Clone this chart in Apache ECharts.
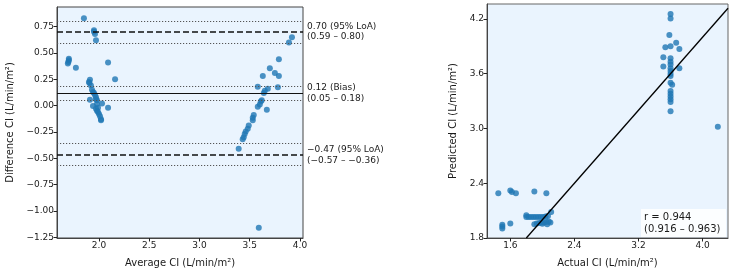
<!DOCTYPE html>
<html>
<head>
<meta charset="utf-8">
<script src="https://cdn.jsdelivr.net/npm/echarts@6.0.0/dist/echarts.min.js"></script>
<style>html,body{margin:0;padding:0;background:#fff;}#c{width:732px;height:273px;}</style>
</head>
<body>
<div id="c"></div>
<script>
// Bland–Altman data (average, difference)
const baAverage = [1.85,1.95,1.95,1.96,1.97,1.70,1.70,1.695,1.69,1.77,2.09,2.16,1.91,1.90,1.905,1.92,1.93,1.94,1.95,1.96,1.97,1.98,1.91,1.97,2.03,1.98,1.94,1.97,1.99,1.98,1.99,2.00,2.01,2.02,2.02,2.09,
  3.39,3.43,3.44,3.45,3.46,3.48,3.49,3.53,3.53,3.54,3.58,3.60,3.61,3.62,3.67,3.64,3.65,3.68,3.58,3.63,3.70,3.75,3.79,3.78,3.79,3.89,3.92,3.59];
const baDifference = [0.83,0.715,0.70,0.68,0.62,0.445,0.43,0.415,0.40,0.36,0.41,0.25,0.245,0.225,0.215,0.19,0.15,0.13,0.12,0.10,0.08,0.05,0.055,0.06,0.02,0.015,-0.005,-0.03,-0.02,-0.05,-0.06,-0.08,-0.10,-0.13,-0.14,-0.02,
  -0.41,-0.32,-0.30,-0.27,-0.245,-0.22,-0.19,-0.14,-0.115,-0.09,-0.01,0.01,0.04,0.05,-0.04,0.12,0.14,0.16,0.18,0.28,0.355,0.31,0.28,0.175,0.44,0.60,0.65,-1.16];
// Correlation data (actual, predicted)
const actualCI = [1.45,1.60,1.62,1.67,1.90,2.05,1.50,1.50,1.50,1.60,
  1.80,1.80,1.83,1.86,1.89,1.92,1.95,1.98,2.01,2.04,2.07,2.11,
  1.90,1.93,1.96,1.99,2.02,2.05,2.08,2.10,2.06,2.00,
  3.60,3.60,3.585,3.535,3.60,3.67,3.71,3.51,3.60,3.60,3.60,3.51,3.60,3.71,3.60,3.60,3.60,3.60,3.62,3.60,3.60,3.60,3.60,3.60,3.60,4.19];
const predictedCI = [2.29,2.32,2.305,2.29,2.31,2.29,1.945,1.925,1.905,1.96,
  2.05,2.03,2.03,2.03,2.03,2.03,2.03,2.03,2.03,2.035,2.04,2.085,
  1.95,1.96,1.965,1.97,1.97,1.975,1.98,1.97,1.95,1.955,
  4.255,4.205,4.025,3.89,3.90,3.94,3.87,3.78,3.77,3.73,3.70,3.68,3.66,3.66,3.63,3.60,3.575,3.50,3.48,3.41,3.38,3.35,3.32,3.29,3.19,3.02];
// Statistic lines
const biasValue = 0.12, biasCI = [0.05, 0.18];
const loaUpper = 0.70, loaUpperCI = [0.59, 0.80];
const loaLower = -0.47, loaLowerCI = [-0.57, -0.36];
const biasLabel = '0.12 (Bias)\n(0.05 – 0.18)';
const loaUpperLabel = '0.70 (95% LoA)\n(0.59 – 0.80)';
const loaLowerLabel = '−0.47 (95% LoA)\n(−0.57 – −0.36)';
const corrLabel = 'r = 0.944\n(0.916 – 0.963)';
// Ticks
const baXTicks = [2.0, 2.5, 3.0, 3.5, 4.0];
const baYTicks = [-1.25, -1.0, -0.75, -0.5, -0.25, 0, 0.25, 0.5, 0.75];
const corrXTicks = [1.6, 2.4, 3.2, 4.0];
const corrYTicks = [1.8, 2.4, 3.0, 3.6, 4.2];
// Identity line end points (y = x)
const identityLine = [1.8, 4.317];

const FONT = 'DejaVu Sans';
const fmt = d => v => v.toFixed(d).replace('-', '\u2212');
const axisCommon = (ticks, dec) => ({
  type: 'value',
  splitLine: {show: false},
  axisLine: {show: true, onZero: false, lineStyle: {color: '#444', width: 1}},
  axisTick: {show: true, customValues: ticks, length: 3.5, lineStyle: {color: '#222'}},
  axisLabel: {customValues: ticks, formatter: fmt(dec), fontSize: 9, fontFamily: FONT, color: '#1a1a1a', margin: 3},
  nameLocation: 'middle',
  nameTextStyle: {fontSize: 10, fontFamily: FONT, color: '#1a1a1a'}
});
const dotted = v => ({yAxis: v, lineStyle: {type: [1.2, 1.8], width: 1, color: '#555'}, label: {show: false}});

const chart = echarts.init(document.getElementById('c'), null, {renderer: 'canvas'});
chart.setOption({
  animation: false,
  grid: [
    {left: 57, top: 7, width: 246, height: 233, show: true, backgroundColor: '#eaf4fe', borderColor: '#444', borderWidth: 1},
    {left: 487, top: 4, width: 241, height: 234, show: true, backgroundColor: '#eaf4fe', borderColor: '#666', borderWidth: 1}
  ],
  xAxis: [
    Object.assign(axisCommon(baXTicks, 1), {gridIndex: 0, min: 1.582, max: 4.03, name: 'Average CI (L/min/m²)', nameGap: 20}),
    Object.assign(axisCommon(corrXTicks, 1), {gridIndex: 1, min: 1.309, max: 4.317, name: 'Actual CI (L/min/m²)', nameGap: 20})
  ],
  yAxis: [
    Object.assign(axisCommon(baYTicks, 2), {gridIndex: 0, min: -1.257, max: 0.936, name: 'Difference CI (L/min/m²)', nameGap: 42}),
    Object.assign(axisCommon(corrYTicks, 1), {gridIndex: 1, min: 1.8, max: 4.364, name: 'Predicted CI (L/min/m²)', nameGap: 29})
  ],
  series: [
    {
      type: 'scatter', xAxisIndex: 0, yAxisIndex: 0,
      data: baAverage.map((a, i) => [a, baDifference[i]]),
      symbolSize: 6,
      itemStyle: {color: '#1f77b4', opacity: 0.8},
      markLine: {
        silent: true, symbol: ['none', 'none'],
        label: {position: 'end', distance: 4, fontSize: 9, fontFamily: FONT, color: '#1a1a1a', lineHeight: 10.5, align: 'left'},
        data: [
          dotted(loaUpperCI[0]), dotted(loaUpperCI[1]),
          dotted(biasCI[0]), dotted(biasCI[1]),
          dotted(loaLowerCI[0]), dotted(loaLowerCI[1]),
          {yAxis: loaUpper, lineStyle: {type: [6, 3], width: 1.5, color: '#111'}, label: {show: true, formatter: loaUpperLabel}},
          {yAxis: biasValue, lineStyle: {type: 'solid', width: 1.2, color: '#111'}, label: {show: true, formatter: biasLabel}},
          {yAxis: loaLower, lineStyle: {type: [6, 3], width: 1.5, color: '#111'}, label: {show: true, formatter: loaLowerLabel}}
        ]
      }
    },
    {
      type: 'scatter', xAxisIndex: 1, yAxisIndex: 1,
      data: actualCI.map((a, i) => [a, predictedCI[i]]),
      symbolSize: 6,
      itemStyle: {color: '#1f77b4', opacity: 0.8}
    },
    {
      type: 'line', xAxisIndex: 1, yAxisIndex: 1, clip: true,
      data: identityLine.map(v => [v, v]),
      symbol: 'none', silent: true,
      lineStyle: {color: '#000', width: 1.3}
    }
  ],
  graphic: [
    {type: 'rect', shape: {x: 641, y: 209, width: 85, height: 28}, style: {fill: 'rgba(255,255,255,0.85)'}, z: 100},
    {type: 'text', x: 644, y: 211, z: 101, style: {text: corrLabel, font: '10px "DejaVu Sans"', fill: '#1a1a1a', lineHeight: 12, verticalAlign: 'top'}}
  ]
});
</script>
</body>
</html>
